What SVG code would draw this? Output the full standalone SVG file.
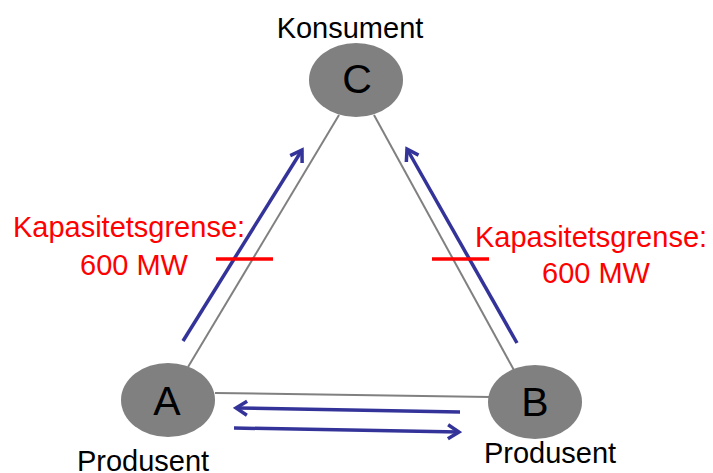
<svg xmlns="http://www.w3.org/2000/svg" width="713" height="473" viewBox="0 0 713 473">
  <style>
    .node { fill: #808080; }
    .edge { stroke: #808080; stroke-width: 2; fill: none; }
    .flow { stroke: #333399; stroke-width: 3.5; fill: none; marker-end: url(#chev); }
    .limit { stroke: #ff0000; stroke-width: 3.5; }
    .letter { font-family: "Liberation Sans", Arial, sans-serif; font-size: 41px; fill: #000; text-anchor: middle; }
    .role { font-family: "Liberation Sans", Arial, sans-serif; font-size: 29px; fill: #000; text-anchor: middle; }
    .cap { font-family: "Liberation Sans", Arial, sans-serif; font-size: 29px; fill: #ff0000; text-anchor: middle; }
  </style>
  <defs>
    <marker id="chev" viewBox="-14 -9 17 18" refX="0" refY="0" markerUnits="userSpaceOnUse" markerWidth="17" markerHeight="18" orient="auto">
      <path d="M-11,-7 L0,0 L-11,7" fill="none" stroke="#333399" stroke-width="3.5"/>
    </marker>
  </defs>

  <!-- transmission lines between the nodes -->
  <g id="connectors">
    <line class="edge" x1="339" y1="115" x2="188" y2="367"/>
    <line class="edge" x1="374" y1="115" x2="515" y2="372"/>
    <line class="edge" x1="215" y1="393" x2="490" y2="397"/>
    <line class="flow" x1="183" y1="341" x2="302" y2="150"/>
    <line class="flow" x1="517" y1="343" x2="407" y2="149"/>
    <line class="flow" x1="460" y1="412" x2="236" y2="408"/>
    <line class="flow" x1="234" y1="428" x2="459" y2="432"/>
  </g>

  <!-- capacity limits on the two lines into C -->
  <g id="limits">
    <line class="limit" x1="216" y1="259" x2="273" y2="259"/>
    <line class="limit" x1="432" y1="259" x2="489" y2="259"/>
    <text class="cap" x="129" y="237">Kapasitetsgrense:</text>
    <text class="cap" x="134" y="275">600 MW</text>
    <text class="cap" x="591" y="247">Kapasitetsgrense:</text>
    <text class="cap" x="596" y="283">600 MW</text>
  </g>

  <g id="node-c">
    <ellipse class="node" cx="356" cy="80" rx="47" ry="37"/>
    <text class="letter" x="357" y="93">C</text>
    <text class="role" x="350" y="38">Konsument</text>
  </g>

  <g id="node-a">
    <ellipse class="node" cx="168" cy="400" rx="47" ry="37"/>
    <text class="letter" x="167" y="415">A</text>
    <text class="role" x="143" y="471">Produsent</text>
  </g>

  <g id="node-b">
    <ellipse class="node" cx="535" cy="402" rx="47" ry="37"/>
    <text class="letter" x="535" y="416">B</text>
    <text class="role" x="550" y="463">Produsent</text>
  </g>
</svg>
